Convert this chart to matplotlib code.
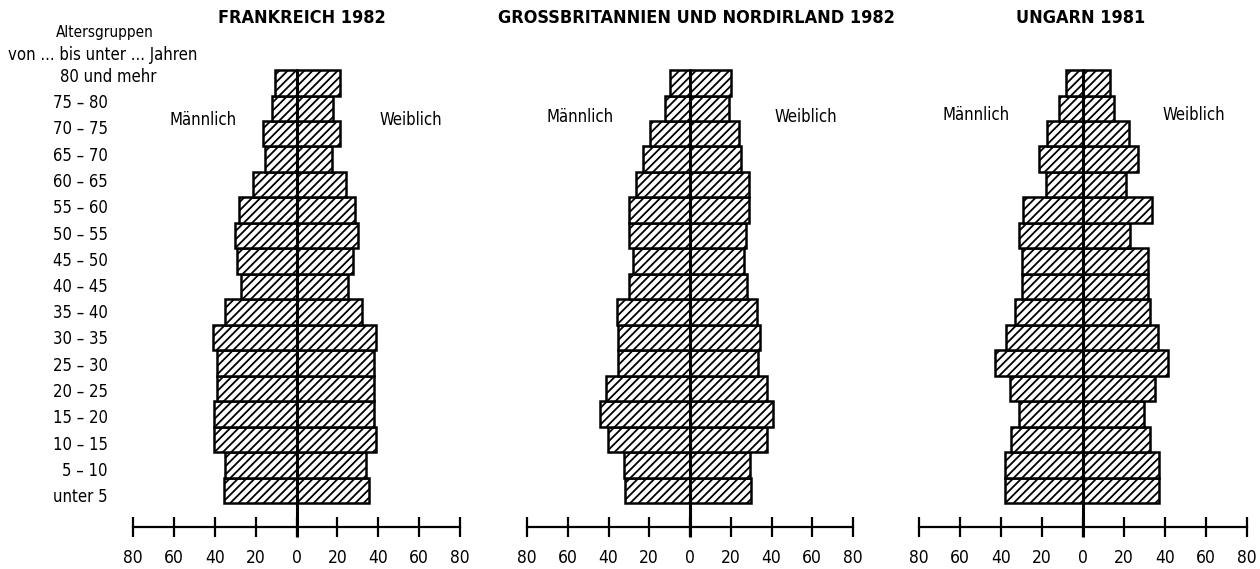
import matplotlib
matplotlib.use("Agg")
import matplotlib.pyplot as plt
from matplotlib import font_manager as fm
import numpy as np

# look for a condensed/narrow sans face
cond_reg, cond_bold = None, None
for fe in fm.fontManager.ttflist:
    fn = fe.fname.lower()
    if ('condensed' in fn or 'narrow' in fn) and 'sans' in fn and 'mono' not in fn and 'oblique' not in fn and 'italic' not in fn:
        if 'bold' in fn:
            cond_bold = cond_bold or fe.fname
        else:
            cond_reg = cond_reg or fe.fname

def fp(size, bold=False):
    if bold and cond_bold:
        return fm.FontProperties(fname=cond_bold, size=size)
    if not bold and cond_reg:
        return fm.FontProperties(fname=cond_reg, size=size)
    return fm.FontProperties(family='Liberation Sans', size=size,
                             weight='bold' if bold else 'normal')

plt.rcParams['hatch.linewidth'] = 1.3

# Data (bottom -> top)
age_groups = ["unter 5", "5 – 10", "10 – 15", "15 – 20", "20 – 25", "25 – 30", "30 – 35",
              "35 – 40", "40 – 45", "45 – 50", "50 – 55", "55 – 60", "60 – 65", "65 – 70",
              "70 – 75", "75 – 80", "80 und mehr"]

fr_male   = [35.5, 35, 40.5, 40.5, 39, 39, 41, 35, 27, 29, 30, 28, 21.5, 15.5, 16.5, 12, 10.3]
fr_female = [35.5, 34, 39, 38, 38, 38, 39, 32, 25, 27.5, 30, 28.5, 24, 17.5, 21.5, 18, 21.5]

gb_male   = [32, 32.5, 40.4, 44, 41, 35.5, 35.5, 36, 30, 27.8, 30, 30, 26.6, 23, 19.6, 12.3, 10]
gb_female = [30, 29.6, 38, 40.8, 37.7, 33.5, 34.5, 33, 27.8, 26.6, 27.5, 29, 28.8, 25, 24, 19, 20]

hu_male   = [37.9, 38.2, 35, 31, 35.8, 42.8, 37.4, 33, 30, 29.8, 31.4, 29.4, 18, 21.6, 17.6, 11.6, 8.1]
hu_female = [37, 37, 32.8, 29.6, 35, 41.5, 36.6, 32.8, 31.6, 31.6, 23, 33.7, 21, 26.7, 22.3, 15, 13]

titles = ["FRANKREICH 1982", "GROSSBRITANNIEN UND NORDIRLAND 1982", "UNGARN 1981"]
tick_values = [-80, -60, -40, -20, 0, 20, 40, 60, 80]
tick_labels = ["80", "60", "40", "20", "0", "20", "40", "60", "80"]

W, H = 1260, 569
fig = plt.figure(figsize=(W / 100, H / 100), dpi=100)

# panel x-extent in pixels (from -80 to +80)
panels_px = [(133, 460), (527, 853), (919, 1247)]
y_bottom_px, y_top_px = 527, 67.5
ymin, ymax = -1.44, 16.6

label_pos = [(-45.6, 56), (-54, 57), (-52, 54)]
label_y = [14.55, 14.65, 14.75]

data = [(fr_male, fr_female), (gb_male, gb_female), (hu_male, hu_female)]
y = np.arange(len(age_groups))

for i, ((x0, x1), (m, f)) in enumerate(zip(panels_px, data)):
    ax = fig.add_axes([x0 / W, 1 - y_bottom_px / H, (x1 - x0) / W, (y_bottom_px - y_top_px) / H])
    ax.barh(y, -np.array(m), height=1.0, color='white', edgecolor='black', linewidth=1.8,
            hatch='////', clip_on=False)
    ax.barh(y, np.array(f), height=1.0, color='white', edgecolor='black', linewidth=1.8,
            hatch='////', clip_on=False)
    ax.plot([0, 0], [ymin - 0.4, len(age_groups) - 0.5], color='black', lw=2.2,
            clip_on=False, solid_capstyle='butt')
    ax.set_xlim(-80, 80)
    ax.set_ylim(ymin, ymax)
    for s in ['top', 'left', 'right']:
        ax.spines[s].set_visible(False)
    ax.spines['bottom'].set_linewidth(1.6)
    ax.set_yticks([])
    ax.set_xticks(tick_values)
    ax.set_xticklabels(tick_labels)
    ax.tick_params(axis='x', direction='inout', length=14, width=1.6, pad=9)
    for tl in ax.get_xticklabels():
        tl.set_fontproperties(fp(12.5))
    ax.patch.set_visible(False)
    ax.text(label_pos[i][0], label_y[i], "Männlich", ha='center', va='center', fontproperties=fp(12))
    ax.text(label_pos[i][1], label_y[i], "Weiblich", ha='center', va='center', fontproperties=fp(12))

# titles
title_x = [302, 696, 1081]
for t, tx in zip(titles, title_x):
    fig.text(tx / W, 1 - 18 / H, t, ha='center', va='center', fontproperties=fp(13, bold=True))

# age labels on the left
for k, lab in enumerate(age_groups):
    ypx = 497 - k * 26.25
    if lab == "80 und mehr":
        fig.text(60 / W, 1 - ypx / H, lab, ha='left', va='center', fontproperties=fp(12))
    else:
        fig.text(108 / W, 1 - ypx / H, lab, ha='right', va='center', fontproperties=fp(12))

fig.text(105 / W, 1 - 33 / H, "Altersgruppen", ha='center', va='center', fontproperties=fp(11))
fig.text(103 / W, 1 - 55 / H, "von ... bis unter ... Jahren", ha='center', va='center', fontproperties=fp(12))

fig.savefig("out.png", dpi=100, facecolor='white')
